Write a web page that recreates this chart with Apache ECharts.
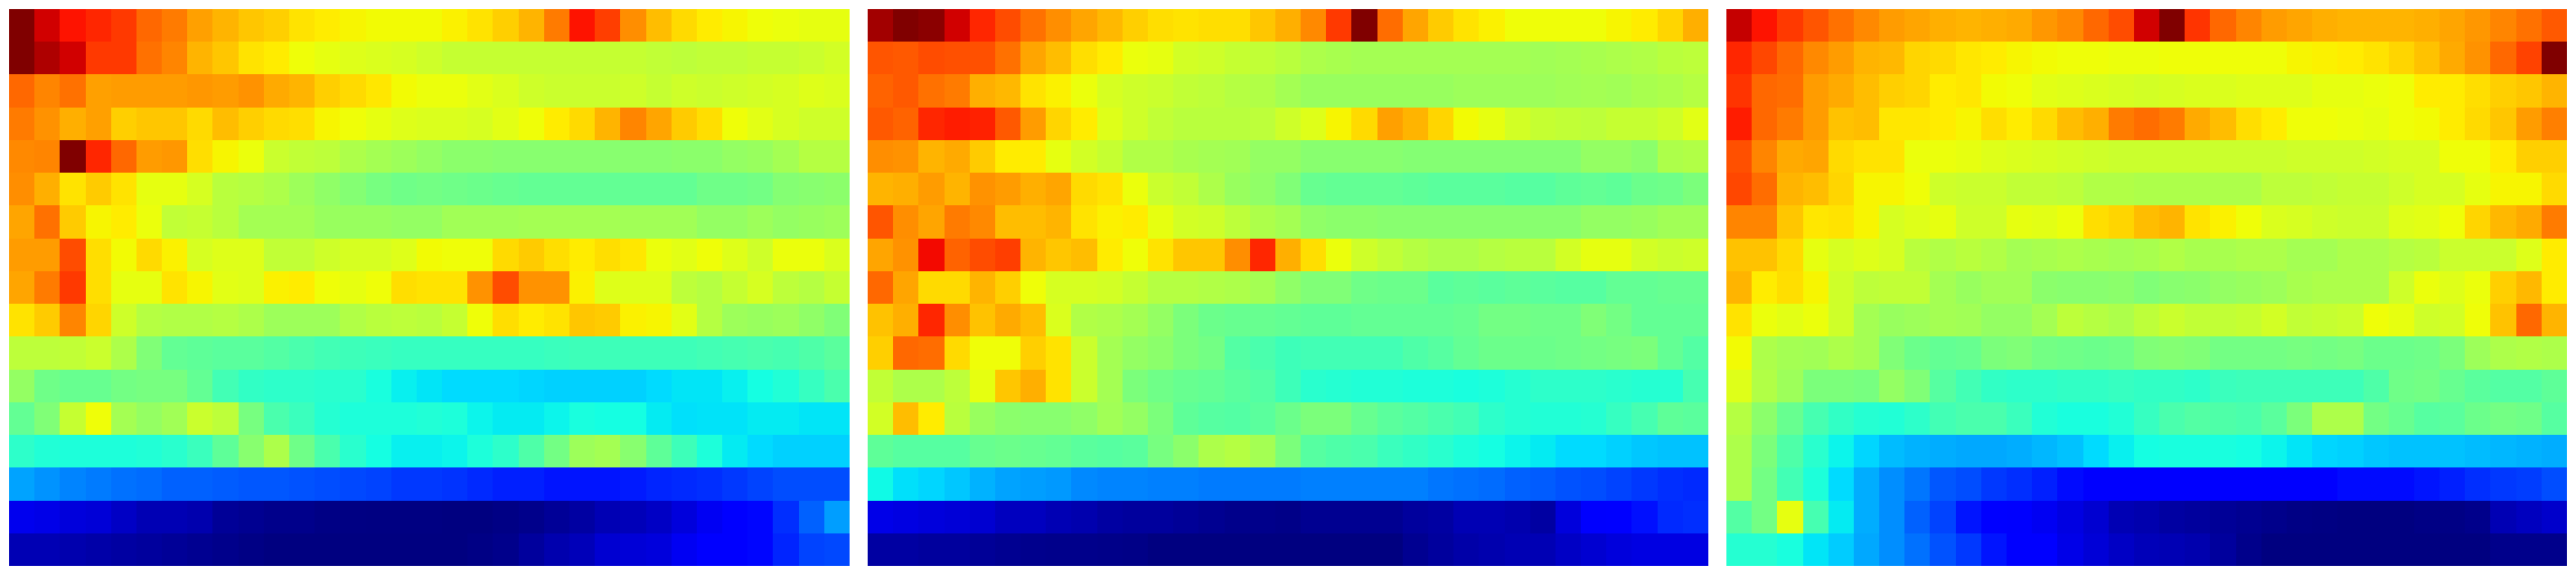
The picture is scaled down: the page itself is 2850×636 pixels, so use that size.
<!DOCTYPE html>
<html>
<head>
<meta charset="utf-8">
<style>html,body{margin:0;padding:0;background:#fff}#c{width:2850px;height:636px}</style>
<script src="https://cdn.jsdelivr.net/npm/echarts@6/dist/echarts.min.js"></script>
</head>
<body>
<div id="c"></div>
<script>
// matplotlib "jet" colormap control points: [position, channel value]
const jetRed = [[0,0],[0.35,0],[0.66,1],[0.89,1],[1,0.5]];
const jetGreen = [[0,0],[0.125,0],[0.375,1],[0.64,1],[0.91,0],[1,0]];
const jetBlue = [[0,0.5],[0.11,1],[0.34,1],[0.65,0],[1,0]];
function channel(points, t) {
  for (let i = 1; i < points.length; i++) {
    if (t <= points[i][0]) {
      const a = points[i - 1], b = points[i];
      return a[1] + (b[1] - a[1]) * (t - a[0]) / (b[0] - a[0]);
    }
  }
  return points[points.length - 1][1];
}
const jetColors = Array.from({length: 257}, (_, i) => {
  const t = i / 256;
  const c = [jetRed, jetGreen, jetBlue].map(p => Math.round(channel(p, t) * 255));
  return 'rgb(' + c.join(',') + ')';
});

const panelA = [
[100,93,89,87,85,80,78,74,72,70,69,67,66,65,64.5,64.5,64.5,65.5,67,69,72,78,89,84.5,76,71,68,66,65,64,63.5,63,63],
[100,96,93,85,85,79,77,72,70,67,66,64,63,62,61.5,61,60,59,59,59,59,59,59,59,59,58.5,58,58.5,58.5,59,59,59.5,60.5],
[80,77,79,74,74.5,74.5,74.5,75,74.5,75.5,73,72,69,68,66.5,64.5,63.5,63.5,62.5,61.5,60,59.5,59.5,59.5,60,59,60,59.5,60,60.5,61,62,61.5],
[78,75.5,72.5,74,69,70,70,68,71,69,68,67.5,65,64,63,62,61.5,61.5,61,62.5,64,66,68,72,77,73.5,69.5,67.5,64,62.5,61,60,60],
[76.5,77,100,87,80,74.5,75,67.5,65,63.5,59.5,58.5,58,56,55,54,53,52,52,51.5,51.5,51.5,51.5,51.5,51.5,51.5,52,52,53,53.5,55,57,57],
[76,72.5,67,69.5,67,63,63,61,57.5,57,56,54,52.5,51,49.5,48.5,49,48.5,48,47.5,47,47,47,47,47,47,47,48.5,48.5,49,51,51.5,52],
[73.5,79,69.5,65,66,63.5,58.5,59,57.5,55,55,55,53.5,53.5,53.5,53,53,54.5,54.5,54.5,55,55,55,55,54.5,54.5,54.5,53,53,54,53,53.5,54],
[74.5,74.5,83,67.5,64.5,68,65.5,61,62,62,58.5,58.5,60,61,61,62,64.5,64,64,68,69.5,67.5,66,67.5,66.5,63.5,62.5,64,62,60,63.5,63.5,61.5],
[73.5,78,85,67.5,63,63,67,65,62.5,62,65.5,66,64,63,64,67.5,67,67,75.5,83,75.5,75.5,65.5,62,62,62,58,57,59,61,58,57,59],
[67,69.5,77,68.5,60,57,56.5,56.5,57,56,54,54,54,56.5,57.5,58,57.5,59,64,67.5,66,67,70,69.5,65.5,65,62.5,57,54,53.5,54,52.5,50.5],
[58,58,58.5,59.5,56,50.5,47,46.5,46,46,45,44,43,42.5,42,41.5,41.5,41.5,41.5,41.5,41.5,42,42.5,42.5,42.5,42.5,42.5,43,43.5,44,43.5,44.5,46],
[53,48.5,47.5,47.5,49,49.5,49.5,47,43,41,40.5,40.5,40,40,38,36,35,34,34,34,33.5,33,33,33,33,34,35,35,36,37.5,39,41.5,44],
[47,50.5,59,64,55,53,54.5,59.5,58,49.5,44,42,39.5,38.5,38.5,38.5,39,38.5,36.5,35.5,35.5,36.5,38,37.5,37.5,35.5,34.5,34.8,34.8,35.5,35.5,35,35],
[40.5,39,38.5,38.5,38.5,39,40,42,46.5,51.5,56,48.5,44,40,37.5,36,36,36.5,38.5,40.5,44.5,49,54,55,51.5,46.5,42.5,38.5,35.5,34,33,33,33],
[28.5,27,25.5,24.5,23.5,23,22,22,21.5,21,21,20.5,20,19.5,19,18,18,17.5,16.5,15.5,15.5,14.5,14.5,14.5,15,16,16.5,17,18,19,20,20,20],
[9.5,9,8,7.5,6,4.5,4.5,4,2,1.5,1,1,0.5,0.3,0.2,0.2,0.2,0,0,0.5,1,2,3,4.5,5,6,8,10,12,13,17,22,28],
[4.5,4.5,4,3.5,3,2.5,2,1.5,1,0.5,0,0,0,0,0,0,0,0,0.5,1,2.5,4,5,7,7.5,8,10,12,12.5,13,16,19,19.5]
];

const panelB = [
[97,100,99,93,87,83,79,76,73.5,71.5,69,67.5,67,67.5,67.5,70,72.5,76.5,85,100,79.5,73.5,69.5,67,65.5,64,64,64,64,65,66,68.5,72.5],
[82,81.5,83,82.5,82.5,79,73.5,71,67.5,66,63.5,63,60.5,60,59,58.5,57.5,56,55.5,55,55,55,55,55,55,55,54.5,55,55.5,56,56.5,57.5,58],
[80.5,81.5,79,78,72.5,71.5,67,65.5,63.5,61,60,59.5,58.5,58,57,56.5,55,53.5,53.5,53.5,53.5,53.5,53.5,54,54,54,54,54.5,55,54.5,55.5,56,57],
[81.5,80.5,87,88,87.5,81.5,74.5,68.5,66,62,60,58.5,57.5,57.5,57.5,58,60,62,65,68,74,72,68.5,64.5,63,60.5,59,58.5,58,59,59,60,62.5],
[76,75.5,72,73,69.5,66,66,63,60.5,59,56.5,56.5,55.5,55,54.5,53,53,51.5,51.5,51.5,51.5,51,51,51,51,51,51,51,53,53,52,56,56.5],
[72,72.5,74.5,72,75.5,74.5,72.5,73.5,68,67,63.5,59.5,58.5,56,53.5,52.5,50.5,47.5,47,47,47,46.5,46,46,46,45.5,45.5,46.5,47,46.5,48,48.5,50],
[82,76,73.5,78,76.5,71,71,72,67,65.5,66,63,60.5,60,58,56,55,52.5,52,52,51.5,51.5,51.5,51.5,51.5,51.5,51.5,51.5,53,53,53.5,54.5,54.5],
[73.5,75.5,90,80.5,83,84.5,72,70,71,66,64,67,70,70,76,87,72.5,67.5,63.5,60,58.5,57,56,56,57,57.5,57.5,60.5,63,63,60.5,59.5,60],
[80,73.5,68,68,72,69,64,61,61,60.5,59,57,57,56.5,56,55,52.5,50.5,50.5,48.5,48,48,46,46.5,46,46.5,46,45.5,45.5,47,47,47.5,47.5],
[70.5,72.5,87,76,70.5,73,71,61.5,56.5,56,55,53,50,48,47.5,47.5,47,46.5,46.5,47,47,47,47,47.5,49,49,48.5,48.5,50.5,49,47,47,47],
[69,80,79.5,68,64,64,69,67,59.5,55,53,52,50,49,45,44,42.5,43,43,43,43,44.5,45.5,47,48,48,48,48.5,49,49.5,50,47,45],
[58.5,56,56,58,63,70,72.5,67,59.5,55,50,48.5,47.5,47,46,45,42.5,40,39.5,39,39,38.5,38.5,38,38.5,39.5,40.5,40.5,40.5,40,39.5,39.5,43.5],
[60.5,71,66,57.5,53.5,52,51.5,51.5,52.5,54.5,53,50,46.5,45.5,45,46,48,50,50,47.5,46,45,44,43,40.5,39.5,39,39,39.5,41.5,43.5,46.5,46],
[46.5,45.5,45.5,45.5,47.5,48,47.5,47,46,45.5,46,49.5,52,56,57,55,50,45.5,44.5,44,42,41,40,38.5,37.5,36.5,35.5,34,34,33,32,31.5,31.5],
[37,34.5,33.5,32,30,28.5,28,27.5,26,25.5,25.5,25,25,24.5,24.5,24.5,24.5,25,25,25,25,25,24,23.5,23,22,21.5,20.5,20,19,18,17,16.5],
[9,8.5,8,7.5,7,5.5,5.5,4.5,4,3,2.5,2.5,2,1.5,1,1,0.7,1.5,1.5,1.5,1.5,2.5,3,4.5,4.5,4,3,8,11,12,14,16.5,17],
[3,3,2.5,2.5,2,1.5,1.2,1,1,0.8,0.6,0,0,0,0,0,0,0,0,0,0,1.5,2.5,3.5,4,4.5,4.5,6,7,8,8.5,8.5,8.5]
];

const panelC = [
[94,89,85,82,79,76.5,74.5,73.5,72.5,72,72.5,73,75,76.5,80,83,93,100,85.5,80,77,74.5,73.5,72.5,72,72,72,72.5,73.5,75,77,79,81.5],
[87,83.5,80,76.5,74.5,72,71.5,68.5,68,66.5,66,65,64.5,64,64,63.5,63.5,64,64,64,64,64,65,65.5,66,67,68.5,70.5,73,75.5,80,84,100],
[85.5,80,79.5,74.5,73,71,69,68.5,66,66.5,64.5,64,62.5,62,61.5,61,60.5,61,61.5,61.5,62,62,62,63,63,63.5,64,66,66,67.5,69,70,72],
[88,80,78,74.5,70.5,71,66.5,66.5,66,65,67.5,66,68,71,72.5,78,79.5,78,73,71,67.5,66,64,64,63.5,63,64,64.5,66,68,70,74.5,77.5],
[82.5,77,73,73.5,68,67,67,63.5,63.5,63,62,61.5,61,60.5,60,59.5,59.5,59.5,59.5,59.5,59.5,59.5,60,60,60,60.5,61,61,64,64,66,69,69],
[83.5,79.5,72,71,68.5,65,65,64,60,59.5,59.5,58.5,58.5,58,56.5,56.5,56,56,56,56,56,58,58,58.5,59,59,60,61,61,63,65,65,68],
[77,77,70,66.5,67,65,61,62,63,60,60,63,62.5,63.5,67.5,68.5,71,72,67,65.5,64,61.5,61,60,59.5,59.5,62,62.5,64,68.5,71.5,73,78],
[70.5,70.5,68,63,61,62,61,57.5,56.5,57.5,56.5,55,55.5,56,55.5,55,55.5,56.5,55.5,55.5,56,56,55,55,56,56,57,57.5,59.5,59.5,59.5,62,66],
[72,66,67.5,65,60,58,58.5,58.5,55,53.5,54.5,54.5,52,51.5,51.5,52,50.5,51.5,52,53,53.5,54,55.5,56,56,56,60,63.5,62,63.5,69,71.5,66],
[67,63.5,62.5,63.5,60,55,53.5,54,55,54.5,53,53,55,58,57,56,58,59.5,58.5,58.5,59,60.5,58.5,59,59.5,64,63,60,60.5,64,70.5,80,72],
[64.5,56,55,54.5,56,55,50.5,48,47,47.5,50,50.5,49,48.5,48,48.5,50.5,51,50.5,49,49,49,49.5,49,49.5,48,48,48.5,50,54,56,56.5,56],
[62,56.5,54,50,50,49.5,53,50.5,45.5,43,41,40.5,40.5,41,41,41.5,41,41,40.5,42,42.5,42.5,42.5,42.5,42.5,44.5,48.5,49,47.5,46,45,45,46.5],
[57,52,47.5,43.5,41,39.5,39,40.5,43,44,44,42,39,38,38,39,41.5,44,45,44.5,44,46,50,56,56,49,47.5,45.5,46,48,49,48.5,45.5],
[56,50,44.5,40,36.5,33.5,31,30,29.5,29,29,29.5,30.5,31.5,34,36,37.5,38,38,38,37.5,36.5,35,33.5,33,32,31.5,31.5,31.5,31,30.5,30,29.5],
[56,49,43,38.5,34,29.5,26.5,24,21,20,18,17,15.5,13.5,12.5,12,12,12,12,12,12,12,12,12,13.5,13.5,13.5,14.5,15.5,17,18,18.5,20],
[45,49,63,43.5,35.5,29.5,26.5,22,19,14.5,12,11,10,8.5,7,4.5,4,3,2.5,2,1.5,1,0.5,0.3,0,0,0,0.5,0.5,1,4.5,5.5,6.5],
[39.5,39.5,38,35,32.5,29,26.5,23.5,20.5,18,14.5,12,11.5,9,7.5,6,5,4.5,4,2.5,1,0,0,0,0,0,0,0,0,0,1,1,1]
];

const panels = [panelA, panelB, panelC];
const columnLabels = panelA[0].map((_, i) => String(i));
const rowLabels = panelA.map((_, i) => String(i));
const panelLefts = [10, 960, 1910];

// Each cell is placed by the axes, then snapped to whole pixels so neighbours share crisp edges.
function renderCell(params, api) {
  const center = api.coord([api.value(0), api.value(1)]);
  const size = api.size([1, 1]);
  const x0 = Math.round(center[0] - size[0] / 2);
  const x1 = Math.round(center[0] + size[0] / 2);
  const y0 = Math.round(center[1] - size[1] / 2);
  const y1 = Math.round(center[1] + size[1] / 2);
  return {
    type: 'rect',
    shape: {x: x0, y: y0, width: x1 - x0, height: y1 - y0},
    style: {fill: api.visual('color')}
  };
}

const chart = echarts.init(document.getElementById('c'), null, {renderer: 'canvas'});
chart.setOption({
  animation: false,
  backgroundColor: '#ffffff',
  tooltip: {show: false},
  visualMap: {
    show: false, min: 0, max: 100, dimension: 2, seriesIndex: [0, 1, 2],
    inRange: {color: jetColors}
  },
  grid: panelLefts.map(left => ({left, top: 10, width: 930, height: 616, show: false})),
  xAxis: panels.map((_, i) => ({
    type: 'category', gridIndex: i, data: columnLabels, show: false, boundaryGap: true
  })),
  yAxis: panels.map((_, i) => ({
    type: 'category', gridIndex: i, data: rowLabels, inverse: true, show: false, boundaryGap: true
  })),
  series: panels.map((rows, i) => ({
    type: 'custom', xAxisIndex: i, yAxisIndex: i, progressive: 0, silent: true,
    renderItem: renderCell,
    encode: {x: 0, y: 1},
    data: rows.flatMap((row, y) => row.map((v, x) => [x, y, v]))
  }))
});
</script>
</body>
</html>
